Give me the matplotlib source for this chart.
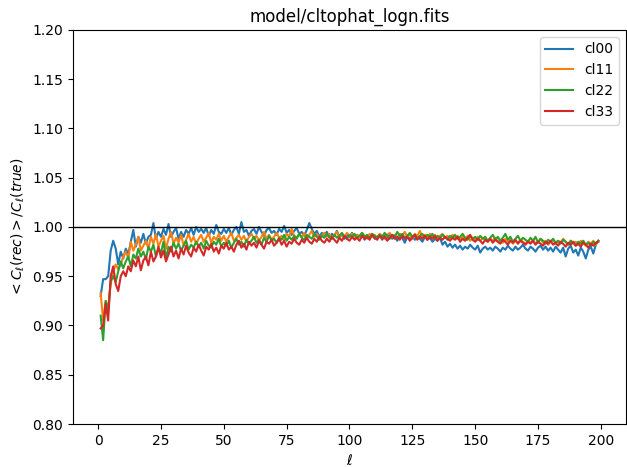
import numpy as np
import matplotlib
matplotlib.use("Agg")
import matplotlib.pyplot as plt

# multipoles
ell = np.arange(1, 200)

cl00 = [
    0.930, 0.947, 0.947, 0.950, 0.976, 0.986, 0.978, 0.962, 0.975, 0.968,
    0.978, 0.972, 0.985, 0.997, 0.980, 0.990, 0.984, 0.993, 0.983, 0.990,
    0.992, 1.004, 0.988, 0.995, 0.990, 0.998, 0.992, 1.003, 0.990, 0.995,
    0.999, 0.988, 0.995, 0.990, 0.997, 0.993, 0.999, 0.992, 1.000, 0.995,
    0.998, 0.994, 0.999, 0.991, 0.997, 0.993, 1.002, 0.995, 0.993, 0.998,
    0.994, 0.999, 0.992, 0.997, 1.000, 0.993, 1.005, 0.995, 0.997, 0.991,
    0.996, 0.998, 0.993, 1.000, 0.995, 0.991, 0.997, 0.999, 0.994, 0.996,
    0.992, 0.998, 0.995, 1.001, 0.994, 0.997, 0.992, 0.996, 0.999, 0.993,
    0.995, 0.991, 0.997, 1.004, 0.998, 0.993, 0.996, 0.990, 0.994, 0.992,
    0.995, 0.989, 0.993, 0.991, 0.996, 0.990, 0.993, 0.988, 0.992, 0.990,
    0.994, 0.989, 0.992, 0.990, 0.993, 0.987, 0.991, 0.989, 0.993, 0.988,
    0.990, 0.992, 0.987, 0.991, 0.989, 0.993, 0.988, 0.990, 0.986, 0.991,
    0.989, 0.984, 0.990, 0.988, 0.991, 0.987, 0.990, 0.988, 0.985, 0.990,
    0.987, 0.989, 0.985, 0.988, 0.986, 0.989, 0.982, 0.985, 0.980, 0.983,
    0.979, 0.982, 0.978, 0.981, 0.977, 0.980, 0.978, 0.982, 0.979, 0.977,
    0.981, 0.974, 0.978, 0.980, 0.977, 0.979, 0.976, 0.980, 0.978, 0.975,
    0.979, 0.977, 0.981, 0.978, 0.976, 0.980, 0.977, 0.979, 0.982, 0.978,
    0.976, 0.980, 0.978, 0.975, 0.979, 0.981, 0.977, 0.980, 0.976, 0.979,
    0.975, 0.980, 0.977, 0.974, 0.979, 0.970, 0.978, 0.981, 0.974, 0.977,
    0.971, 0.979, 0.975, 0.968, 0.977, 0.980, 0.973, 0.982, 0.986,
]

cl11 = [
    0.933, 0.905, 0.925, 0.918, 0.942, 0.955, 0.962, 0.957, 0.962, 0.970,
    0.975, 0.968, 0.985, 0.976, 0.982, 0.990, 0.976, 0.981, 0.986, 0.978,
    0.990, 0.983, 0.993, 0.980, 0.986, 0.991, 0.978, 0.988, 0.995, 0.983,
    0.989, 0.984, 0.992, 0.981, 0.987, 0.993, 0.985, 0.990, 0.983, 0.988,
    0.992, 0.985, 0.989, 0.994, 0.984, 0.990, 0.987, 0.993, 0.986, 0.991,
    0.985, 0.990, 0.994, 0.986, 0.989, 0.992, 0.987, 0.991, 0.985, 0.990,
    0.993, 0.988, 0.991, 0.986, 0.990, 0.995, 0.988, 0.992, 0.987, 0.990,
    0.994, 0.989, 0.991, 0.987, 0.993, 0.990, 0.998, 0.991, 0.989, 0.993,
    0.990, 0.994, 0.988, 0.992, 0.996, 0.990, 0.993, 0.989, 0.991, 0.994,
    0.990, 0.993, 0.988, 0.992, 0.995, 0.989, 0.992, 0.990, 0.994, 0.991,
    0.993, 0.989, 0.992, 0.990, 0.994, 0.991, 0.988, 0.993, 0.990, 0.992,
    0.989, 0.993, 0.991, 0.988, 0.992, 0.994, 0.990, 0.992, 0.989, 0.993,
    0.991, 0.995, 0.990, 0.992, 0.988, 0.993, 0.991, 0.996, 0.990, 0.992,
    0.989, 0.993, 0.990, 0.992, 0.988, 0.991, 0.993, 0.989, 0.991, 0.988,
    0.992, 0.989, 0.991, 0.987, 0.990, 0.988, 0.991, 0.986, 0.989, 0.987,
    0.990, 0.986, 0.989, 0.987, 0.985, 0.988, 0.986, 0.989, 0.985, 0.987,
    0.984, 0.988, 0.985, 0.987, 0.983, 0.986, 0.984, 0.987, 0.985, 0.983,
    0.986, 0.984, 0.987, 0.983, 0.985, 0.988, 0.984, 0.986, 0.982, 0.985,
    0.987, 0.983, 0.986, 0.984, 0.988, 0.985, 0.982, 0.986, 0.983, 0.985,
    0.982, 0.986, 0.984, 0.981, 0.985, 0.983, 0.986, 0.982, 0.986,
]

cl22 = [
    0.910, 0.885, 0.925, 0.915, 0.945, 0.950, 0.944, 0.955, 0.965, 0.958,
    0.965, 0.970, 0.960, 0.972, 0.968, 0.978, 0.970, 0.975, 0.967, 0.980,
    0.975, 0.982, 0.970, 0.978, 0.974, 0.985, 0.968, 0.980, 0.975, 0.984,
    0.978, 0.983, 0.976, 0.981, 0.986, 0.977, 0.982, 0.979, 0.985, 0.980,
    0.984, 0.978, 0.986, 0.981, 0.979, 0.985, 0.982, 0.988, 0.980, 0.984,
    0.981, 0.986, 0.979, 0.984, 0.988, 0.982, 0.985, 0.980, 0.987, 0.983,
    0.986, 0.990, 0.984, 0.987, 0.982, 0.989, 0.985, 0.991, 0.986, 0.988,
    0.984, 0.989, 0.987, 0.992, 0.986, 0.990, 0.987, 0.991, 0.988, 0.993,
    0.989, 0.987, 0.992, 0.990, 0.988, 0.993, 0.990, 0.987, 0.991, 0.989,
    0.993, 0.990, 0.988, 0.992, 0.989, 0.991, 0.994, 0.990, 0.988, 0.992,
    0.990, 0.993, 0.989, 0.991, 0.994, 0.990, 0.992, 0.988, 0.993, 0.991,
    0.989, 0.992, 0.990, 0.994, 0.991, 0.988, 0.992, 0.990, 0.995, 0.991,
    0.993, 0.989, 0.991, 0.994, 0.990, 0.992, 0.988, 0.991, 0.993, 0.989,
    0.992, 0.990, 0.993, 0.988, 0.991, 0.989, 0.992, 0.990, 0.987, 0.991,
    0.989, 0.992, 0.988, 0.990, 0.993, 0.989, 0.987, 0.991, 0.988, 0.990,
    0.987, 0.991, 0.988, 0.990, 0.986, 0.989, 0.992, 0.987, 0.990, 0.986,
    0.989, 0.993, 0.987, 0.990, 0.985, 0.988, 0.991, 0.986, 0.989, 0.987,
    0.985, 0.989, 0.986, 0.990, 0.984, 0.988, 0.986, 0.983, 0.987, 0.985,
    0.988, 0.984, 0.986, 0.983, 0.987, 0.985, 0.982, 0.986, 0.984, 0.981,
    0.985, 0.983, 0.986, 0.982, 0.984, 0.981, 0.985, 0.983, 0.986,
]

cl33 = [
    0.897, 0.900, 0.922, 0.905, 0.950, 0.960, 0.942, 0.935, 0.950, 0.955,
    0.950, 0.960, 0.955, 0.966, 0.960, 0.970, 0.956, 0.966, 0.970, 0.961,
    0.975, 0.965, 0.970, 0.980, 0.969, 0.976, 0.965, 0.972, 0.980, 0.970,
    0.976, 0.968, 0.978, 0.972, 0.981, 0.974, 0.970, 0.979, 0.975, 0.982,
    0.976, 0.971, 0.980, 0.977, 0.983, 0.975, 0.979, 0.973, 0.981, 0.978,
    0.984, 0.977, 0.980, 0.975, 0.982, 0.986, 0.979, 0.983, 0.977, 0.985,
    0.981, 0.984, 0.979, 0.986, 0.982, 0.978, 0.985, 0.983, 0.987, 0.981,
    0.984, 0.988, 0.982, 0.986, 0.980, 0.985, 0.983, 0.988, 0.984, 0.982,
    0.987, 0.984, 0.989, 0.985, 0.983, 0.988, 0.985, 0.990, 0.986, 0.984,
    0.988, 0.985, 0.990, 0.987, 0.984, 0.989, 0.986, 0.991, 0.988, 0.986,
    0.990, 0.987, 0.989, 0.986, 0.991, 0.988, 0.990, 0.987, 0.992, 0.989,
    0.987, 0.991, 0.988, 0.990, 0.986, 0.989, 0.992, 0.988, 0.990, 0.987,
    0.991, 0.988, 0.990, 0.986, 0.989, 0.992, 0.987, 0.990, 0.988, 0.991,
    0.987, 0.990, 0.988, 0.991, 0.986, 0.989, 0.987, 0.990, 0.988, 0.986,
    0.989, 0.987, 0.990, 0.985, 0.988, 0.986, 0.989, 0.992, 0.987, 0.985,
    0.988, 0.986, 0.983, 0.987, 0.985, 0.988, 0.984, 0.987, 0.985, 0.983,
    0.987, 0.985, 0.982, 0.986, 0.984, 0.987, 0.983, 0.986, 0.984, 0.982,
    0.985, 0.983, 0.986, 0.982, 0.985, 0.983, 0.981, 0.985, 0.983, 0.986,
    0.982, 0.984, 0.981, 0.985, 0.983, 0.980, 0.984, 0.982, 0.985, 0.981,
    0.983, 0.980, 0.984, 0.982, 0.979, 0.983, 0.981, 0.984, 0.985,
]

series = {"cl00": cl00, "cl11": cl11, "cl22": cl22, "cl33": cl33}

fig = plt.figure(figsize=(6.27, 4.67), dpi=100)
ax = fig.add_axes([0.1164, 0.092, 0.8820, 0.844])

for name, vals in series.items():
    ax.plot(ell, vals, label=name)

ax.axhline(1.0, color="black", linewidth=1)
ax.set_xlim(-10, 210)
ax.set_ylim(0.8, 1.2)
ax.set_title("model/cltophat_logn.fits")
ax.set_xlabel(r"$\ell$")
ax.set_ylabel(r"$<C_\ell(rec)>/C_\ell(true)$")
ax.legend(loc="upper right")

fig.savefig("out.png", dpi=100)
